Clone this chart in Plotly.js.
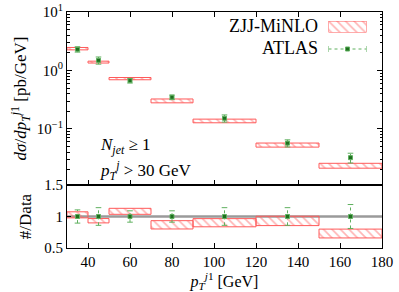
<!DOCTYPE html>
<html>
<head>
<meta charset="utf-8">
<script src="https://cdn.plot.ly/plotly-3.0.1.min.js"></script>
<style>html,body{margin:0;padding:0;background:#fff;}#chart{width:399px;height:292px;}</style>
</head>
<body>
<div id="chart"></div>
<script>
// ---- data ----
const binLo = [30, 40, 50, 70, 90, 120, 150];
const binHi = [40, 50, 70, 90, 120, 150, 180];
const dataX = [35, 45, 60, 80, 105, 135, 165];
const dataY = [2.30, 1.49, 0.67, 0.348, 0.152, 0.057, 0.0322];
const dataRelErr = [0.105, 0.14, 0.09, 0.09, 0.14, 0.14, 0.19];
const mcY = [2.36, 1.39, 0.725, 0.302, 0.137, 0.053, 0.0235];
const mcRelErr = [0.047, 0.037, 0.044, 0.076, 0.072, 0.08, 0.096];
const xTickVals = [40, 60, 80, 100, 120, 140, 160, 180];
const yTickVals = [0.1, 1, 10];
const yTickText = ['10<sup>\u22121</sup>', '10<sup>0</sup>', '10<sup>1</sup>'];
const rTickVals = [0.5, 1, 1.5];
const rTickText = ['0.5', '1', '1.5'];

// ---- styles ----
const FONT = 'Liberation Serif';
const RED = '#ff5a5a';
const HATCH = '#ff6a6a';
const GDARK = '#1f6e1f';
const GLIGHT = '#5fb05f';

const centers = binLo.map((l, i) => (l + binHi[i]) / 2);
const widths = binLo.map((l, i) => binHi[i] - l);
const mcLo = mcY.map((v, i) => v * (1 - mcRelErr[i]));
const mcSize = mcY.map((v, i) => 2 * v * mcRelErr[i]);
const ratio = mcY.map((v, i) => v / dataY[i]);
const rHalf = mcY.map((v, i) => v * mcRelErr[i] / dataY[i]);
const rLo = ratio.map((r, i) => r - rHalf[i]);
const rSize = rHalf.map(h => 2 * h);
const ones = dataX.map(() => 1);

const pattern = {shape: '\\', fgcolor: HATCH, bgcolor: 'rgba(255,255,255,0)', size: 6, solidity: 0.28, fillmode: 'overlay'};

function errSegs(xs, ys, rel) {
  const sx = [], sy = [];
  xs.forEach((x, i) => { sx.push(x, x, null); sy.push(ys[i] * (1 - rel[i]), ys[i] * (1 + rel[i]), null); });
  return {sx, sy};
}
function capPts(xs, ys, rel) {
  const cx = [], cy = [];
  xs.forEach((x, i) => { cx.push(x, x); cy.push(ys[i] * (1 - rel[i]), ys[i] * (1 + rel[i])); });
  return {cx, cy};
}
const eTop = errSegs(dataX, dataY, dataRelErr);
const cTop = capPts(dataX, dataY, dataRelErr);
const eRat = errSegs(dataX, ones, dataRelErr);
const cRat = capPts(dataX, ones, dataRelErr);

const barCommon = {type: 'bar', width: widths, marker: {color: 'rgba(255,255,255,0)', line: {color: RED, width: 1}, pattern: pattern}, hoverinfo: 'skip', showlegend: false};

const traces = [
  Object.assign({}, barCommon, {x: centers, y: mcSize, base: mcLo, xaxis: 'x2', yaxis: 'y'}),
  {x: eTop.sx, y: eTop.sy, xaxis: 'x2', yaxis: 'y', mode: 'lines', line: {color: GLIGHT, width: 1, dash: 'dot'}, showlegend: false},
  {x: cTop.cx, y: cTop.cy, xaxis: 'x2', yaxis: 'y', mode: 'markers', marker: {symbol: 'line-ew', size: 4, line: {color: GLIGHT, width: 1}}, showlegend: false},
  {x: dataX, y: dataY, xaxis: 'x2', yaxis: 'y', mode: 'markers', marker: {symbol: 'square', size: 4, color: GDARK, line: {color: GLIGHT, width: 1}}, showlegend: false},

  Object.assign({}, barCommon, {x: centers, y: rSize, base: rLo, xaxis: 'x', yaxis: 'y2'}),
  {x: eRat.sx, y: eRat.sy, xaxis: 'x', yaxis: 'y2', mode: 'lines', line: {color: GLIGHT, width: 1, dash: 'dot'}, showlegend: false},
  {x: cRat.cx, y: cRat.cy, xaxis: 'x', yaxis: 'y2', mode: 'markers', marker: {symbol: 'line-ew', size: 4, line: {color: GLIGHT, width: 1}}, showlegend: false},
  {x: dataX, y: ones, xaxis: 'x', yaxis: 'y2', mode: 'markers', marker: {symbol: 'square', size: 4, color: GDARK, line: {color: GLIGHT, width: 1}}, showlegend: false},

  // legend swatches (drawn on hidden unit axes)
  Object.assign({}, barCommon, {x: [0.5], y: [1], base: [0], width: [1], xaxis: 'x3', yaxis: 'y3'}),
  {x: [0, 1], y: [0.5, 0.5], xaxis: 'x4', yaxis: 'y4', mode: 'lines', line: {color: GLIGHT, width: 1, dash: 'dot'}, showlegend: false},
  {x: [0, 1], y: [0.5, 0.5], xaxis: 'x4', yaxis: 'y4', mode: 'markers', marker: {symbol: 'line-ns', size: 5, line: {color: GLIGHT, width: 1}}, showlegend: false},
  {x: [0.5], y: [0.5], xaxis: 'x4', yaxis: 'y4', mode: 'markers', marker: {symbol: 'square', size: 4, color: GDARK, line: {color: GLIGHT, width: 1}}, showlegend: false}
];

// pixel helpers for layout placement
const L = 67, R = 382, T = 12, B = 248;
const px = p => (p - L) / (R - L);
const py = p => (B - p) / (B - T);

const minorLog = [];
[0.01, 0.1, 1].forEach(d => { for (let k = 2; k <= 9; k++) minorLog.push(d * k); });

const tickFont = {family: FONT, size: 15, color: '#000'};
const hidden = {visible: false, fixedrange: true, range: [0, 1]};

const layout = {
  width: 399, height: 292,
  margin: {l: L, r: 399 - R, t: T, b: 292 - B, pad: 0},
  paper_bgcolor: '#fff', plot_bgcolor: '#fff',
  showlegend: false,
  barmode: 'overlay',
  font: {family: FONT, size: 15, color: '#000'},
  xaxis: {
    anchor: 'y2', domain: [0, 1], range: [30, 180],
    tickmode: 'array', tickvals: xTickVals, ticks: 'inside', ticklen: 5, tickcolor: '#000',
    showline: true, linecolor: '#000', linewidth: 1, mirror: true, showgrid: false, zeroline: false,
    tickfont: tickFont,
    title: {text: '<i>p</i><sub><i>T</i></sub><sup><i>j</i>1</sup> [GeV]', font: {family: FONT, size: 16, color: '#000'}, standoff: 7}
  },
  xaxis2: {
    anchor: 'y', domain: [0, 1], range: [30, 180], matches: 'x',
    tickmode: 'array', tickvals: xTickVals, ticks: 'inside', ticklen: 5, tickcolor: '#000',
    showticklabels: false, showline: true, linecolor: '#000', linewidth: 1, mirror: 'ticks', showgrid: false, zeroline: false
  },
  yaxis: {
    anchor: 'x2', domain: [0.267, 1], type: 'log', range: [-1.96, 1.0],
    tickmode: 'array', tickvals: yTickVals, ticktext: yTickText, ticks: 'inside', ticklen: 5, tickcolor: '#000',
    minor: {tickmode: 'array', tickvals: minorLog, ticks: 'inside', ticklen: 2.5, tickcolor: '#000', showgrid: false},
    showline: true, linecolor: '#000', linewidth: 1, mirror: 'ticks', showgrid: false, zeroline: false,
    tickfont: tickFont,
    title: {text: '<i>d\u03c3</i>/<i>dp</i><sub><i>T</i></sub><sup><i>j</i>1</sup> [pb/GeV]', font: {family: FONT, size: 17, color: '#000'}, standoff: 5}
  },
  yaxis2: {
    anchor: 'x', domain: [0, 0.267], range: [0.5, 1.5],
    tickmode: 'array', tickvals: rTickVals, ticktext: rTickText, ticks: 'inside', ticklen: 4, tickcolor: '#000',
    showline: true, linecolor: '#000', linewidth: 1, mirror: true, showgrid: false, zeroline: false,
    tickfont: tickFont,
    title: {text: '#/Data', font: {family: FONT, size: 17, color: '#000'}, standoff: 8}
  },
  xaxis3: Object.assign({anchor: 'y3', domain: [px(328.5), px(366.5)]}, hidden),
  yaxis3: Object.assign({anchor: 'x3', domain: [py(32.5), py(21)]}, hidden),
  xaxis4: Object.assign({anchor: 'y4', domain: [px(328.5), px(366.5)]}, hidden),
  yaxis4: Object.assign({anchor: 'x4', domain: [py(52), py(46)]}, hidden),
  shapes: [
    {type: 'line', xref: 'x domain', yref: 'y2', x0: 0, x1: 1, y0: 1, y1: 1, layer: 'below', line: {color: '#9a9a9a', width: 2.5}}
  ],
  annotations: [
    {xref: 'paper', yref: 'paper', x: px(320), y: py(26), xanchor: 'right', yanchor: 'middle', showarrow: false, text: 'ZJJ-MiNLO', font: {family: FONT, size: 18, color: '#000'}},
    {xref: 'paper', yref: 'paper', x: px(320), y: py(48), xanchor: 'right', yanchor: 'middle', showarrow: false, text: 'ATLAS', font: {family: FONT, size: 18, color: '#000'}},
    {xref: 'paper', yref: 'paper', x: px(98), y: py(146), xanchor: 'left', yanchor: 'middle', showarrow: false, text: '<i>N</i><sub><i>jet</i></sub> \u2265 1', font: {family: FONT, size: 17, color: '#000'}},
    {xref: 'paper', yref: 'paper', x: px(98), y: py(170), xanchor: 'left', yanchor: 'middle', showarrow: false, text: '<i>p</i><sub><i>T</i></sub><sup><i>j</i></sup> &gt; 30 GeV', font: {family: FONT, size: 17, color: '#000'}}
  ]
};

Plotly.newPlot('chart', traces, layout, {staticPlot: true, displayModeBar: false});
</script>
</body>
</html>
